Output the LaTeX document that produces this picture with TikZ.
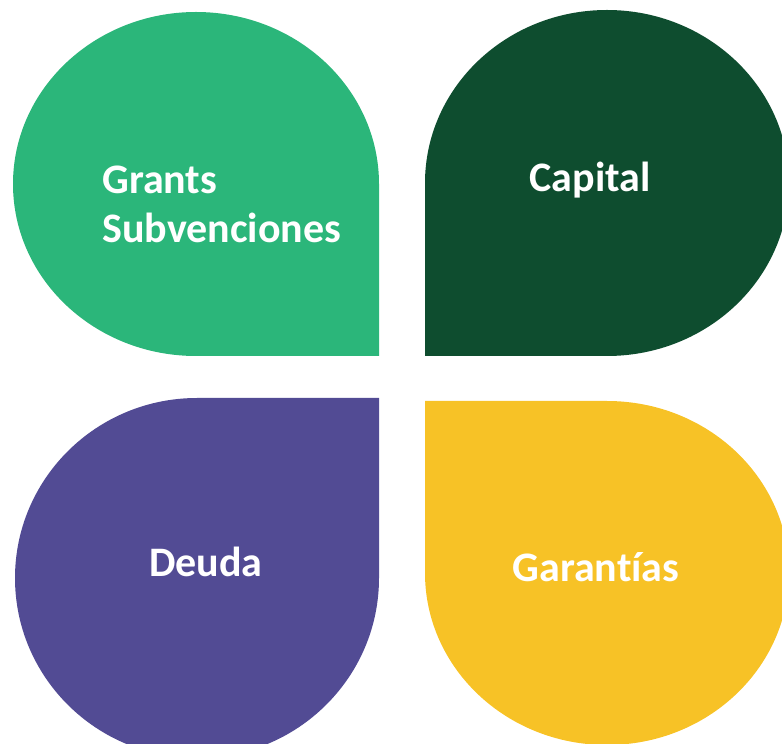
\documentclass[tikz,border=0pt]{standalone}
\usepackage{fontspec}
\setmainfont{Carlito}[Ligatures=NoCommon]
\usepackage{tikz}
\definecolor{grantgreen}{HTML}{2BB67A}
\definecolor{capitalgreen}{HTML}{0E4D2F}
\definecolor{deudapurple}{HTML}{524B94}
\definecolor{garantyellow}{HTML}{F7C226}
\tikzstyle{petal} = [draw=none]
\tikzstyle{petaltext} = [text=white, inner sep=0pt, font=\bfseries\fontsize{31.5}{36.75}\selectfont]

\begin{document}
\begin{tikzpicture}[x=0.75pt, y=0.75pt]
  \useasboundingbox (0,0) rectangle (782,743);
  \clip (0,0) rectangle (782,743);
  % Draw petals
  \path [petal, fill=grantgreen] (379,387) -- (196,387)
    arc [start angle=270, end angle=0, x radius=183, y radius=172] -- cycle;
  \path [petal, fill=capitalgreen] (425,387) -- (425,560)
    arc [start angle=180, end angle=-90, x radius=182, y radius=173] -- cycle;
  \path [petal, fill=deudapurple] (379,345) -- (379,165)
    arc [start angle=0, end angle=-270, x radius=182, y radius=180] -- cycle;
  \path [petal, fill=garantyellow] (425,342) -- (607,342)
    arc [start angle=90, end angle=-180, x radius=182, y radius=172] -- cycle;
  % Place nodes
  \node [petaltext, anchor=north west, align=left] (grants) at (102,577) {Grants\\Subvenciones};
  \node [petaltext, anchor=base] (capital) at (590,551) {Capital};
  \node [petaltext, anchor=base] (deuda) at (206,166) {Deuda};
  \node [petaltext, anchor=base] (garantias) at (596,161) {Garantías};
\end{tikzpicture}
\end{document}
